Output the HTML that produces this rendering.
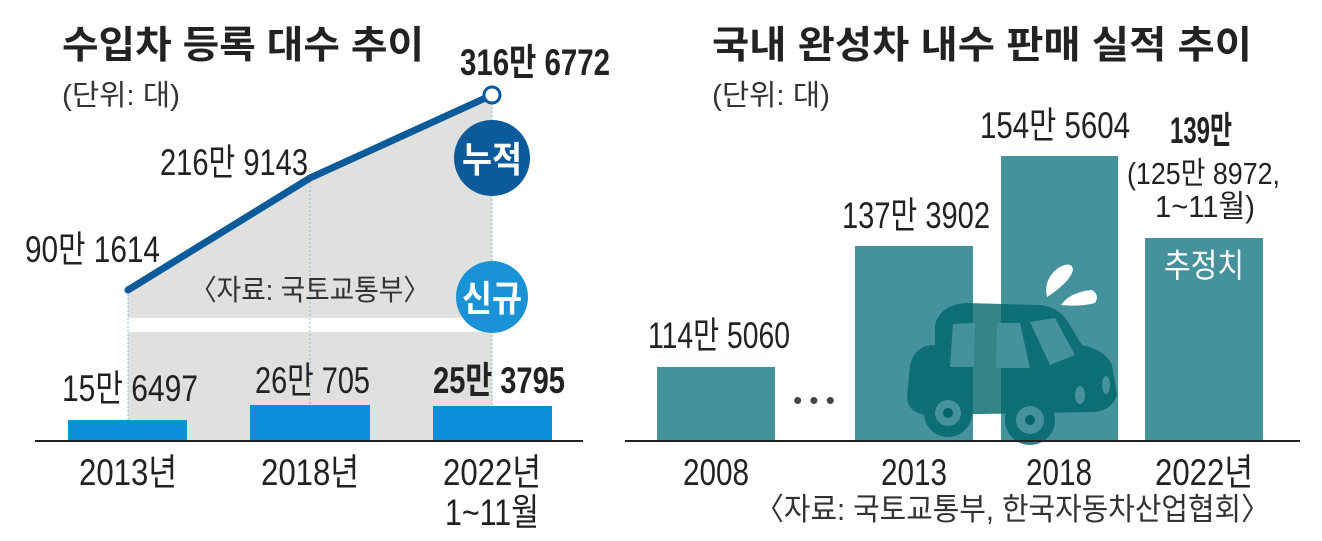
<!DOCTYPE html>
<html><head><meta charset="utf-8"><style>
html,body{margin:0;padding:0;background:#fff;}
svg{display:block;font-family:"Liberation Sans","Noto Sans CJK KR",sans-serif;}
</style></head><body>
<svg width="1322" height="541" viewBox="0 0 1322 541" xmlns="http://www.w3.org/2000/svg">
<!-- LEFT -->
<text x="62" y="58" font-size="38" font-weight="bold" fill="#222" textLength="362" lengthAdjust="spacingAndGlyphs">수입차 등록 대수 추이</text>
<text x="62" y="105" font-size="29" fill="#333" textLength="118" lengthAdjust="spacingAndGlyphs">(단위: 대)</text>
<polygon points="128,290 310,178 492,95 492,318 128,318" fill="#e0e0df"/>
<rect x="128" y="332" width="364" height="109" fill="#e0e0df"/>
<g stroke="#7fbde6" stroke-width="1" stroke-dasharray="2,2">
<line x1="128" y1="290" x2="128" y2="441"/><line x1="310" y1="178" x2="310" y2="441"/><line x1="492" y1="95" x2="492" y2="441"/>
</g>
<polyline points="128,290 310,178 492,95" fill="none" stroke="#0b5a9a" stroke-width="7" stroke-linecap="round"/>
<circle cx="492" cy="95" r="8" fill="#fff" stroke="#0b5a9a" stroke-width="3"/>
<circle cx="492" cy="158" r="38" fill="#0a5a9c"/>
<text x="492" y="172" font-size="36" font-weight="bold" fill="#fff" text-anchor="middle" textLength="60" lengthAdjust="spacingAndGlyphs">누적</text>
<circle cx="492" cy="297" r="36" fill="#1a93d6"/>
<text x="492" y="311" font-size="36" font-weight="bold" fill="#fff" text-anchor="middle" textLength="60" lengthAdjust="spacingAndGlyphs">신규</text>
<rect x="68" y="420" width="119" height="21" fill="#0a8fd8"/>
<rect x="250" y="405" width="120" height="36" fill="#0a8fd8"/>
<rect x="433" y="406" width="119" height="35" fill="#0a8fd8"/>
<line x1="35" y1="441" x2="583" y2="441" stroke="#222" stroke-width="2"/>
<text x="460" y="75" font-size="37" font-weight="bold" fill="#222" textLength="150" lengthAdjust="spacingAndGlyphs">316만 6772</text>
<text x="160" y="175" font-size="37" fill="#222" textLength="148" lengthAdjust="spacingAndGlyphs">216만 9143</text>
<text x="25" y="262" font-size="37" fill="#222" textLength="135" lengthAdjust="spacingAndGlyphs">90만 1614</text>
<text x="190" y="300" font-size="29" fill="#333" textLength="240" lengthAdjust="spacingAndGlyphs">〈자료: 국토교통부〉</text>
<text x="62" y="401" font-size="37" fill="#222" textLength="136" lengthAdjust="spacingAndGlyphs">15만 6497</text>
<text x="255" y="393" font-size="37" fill="#222" textLength="115" lengthAdjust="spacingAndGlyphs">26만 705</text>
<text x="433" y="393" font-size="37" font-weight="bold" fill="#222" textLength="132" lengthAdjust="spacingAndGlyphs">25만 3795</text>
<g font-size="37" fill="#222" text-anchor="middle" lengthAdjust="spacingAndGlyphs">
<text x="128" y="485" textLength="98" lengthAdjust="spacingAndGlyphs">2013년</text><text x="310" y="485" textLength="98" lengthAdjust="spacingAndGlyphs">2018년</text><text x="492" y="485" textLength="98" lengthAdjust="spacingAndGlyphs">2022년</text><text x="492" y="525" textLength="94" lengthAdjust="spacingAndGlyphs">1~11월</text>
</g>
<!-- RIGHT -->
<text x="712" y="58" font-size="38" font-weight="bold" fill="#222" textLength="540" lengthAdjust="spacingAndGlyphs">국내 완성차 내수 판매 실적 추이</text>
<text x="712" y="105" font-size="29" fill="#333" textLength="118" lengthAdjust="spacingAndGlyphs">(단위: 대)</text>
<g fill="#46929c">
<rect x="657" y="367" width="118" height="74"/><rect x="855" y="246" width="118" height="195"/>
<rect x="1001" y="156" width="117" height="285"/><rect x="1145" y="238" width="118" height="203"/>
</g>
<!-- car -->
<g fill="#00666a" opacity="0.8">
<path d="M935,325 Q940,305 965,303 L1040,305 Q1060,307 1070,325 L1082,345 Q1105,350 1112,365 L1117,395 Q1112,410 1095,412 L925,415 Q908,412 907,398 L910,365 Q915,345 935,345 Z"/>
<circle cx="948" cy="413" r="24"/><circle cx="1030" cy="420" r="25"/>
</g>
<g fill="#46929c">
<path d="M953,324 L975,323 L974,367 L950,367 Z"/><path d="M997,323 L1020,323 L1030,368 L996,368 Z"/><path d="M1030,322 L1055,318 L1075,355 L1050,365 Z"/>
<circle cx="948" cy="413" r="13"/><circle cx="1030" cy="420" r="14"/><ellipse cx="1080" cy="395" rx="5" ry="9"/><ellipse cx="1106" cy="385" rx="4" ry="9"/>
</g>
<circle cx="948" cy="413" r="5" fill="#00666a"/><circle cx="1030" cy="420" r="5" fill="#00666a"/>
<g fill="#fff">
<path d="M1047,297 Q1043,280 1058,268 Q1072,260 1073,270 Q1070,282 1047,297 Z"/>
<path d="M1061,305 Q1070,292 1092,290 Q1100,295 1095,303 Q1080,307 1061,305 Z"/>
</g>
<line x1="625" y1="441" x2="1300" y2="441" stroke="#222" stroke-width="2"/>
<text x="648" y="348" font-size="37" fill="#222" textLength="142" lengthAdjust="spacingAndGlyphs">114만 5060</text>
<text x="814" y="409" font-size="26" fill="#444" text-anchor="middle">• • •</text>
<text x="842" y="228" font-size="37" fill="#222" textLength="148" lengthAdjust="spacingAndGlyphs">137만 3902</text>
<text x="980" y="138" font-size="37" fill="#222" textLength="150" lengthAdjust="spacingAndGlyphs">154만 5604</text>
<text x="1170" y="143" font-size="37" font-weight="bold" fill="#222" textLength="62" lengthAdjust="spacingAndGlyphs">139만</text>
<text x="1127" y="184" font-size="31" fill="#222" textLength="153" lengthAdjust="spacingAndGlyphs">(125만 8972,</text>
<text x="1155" y="217" font-size="31" fill="#222" textLength="100" lengthAdjust="spacingAndGlyphs">1~11월)</text>
<text x="1204" y="277" font-size="33" fill="#fff" text-anchor="middle" textLength="80" lengthAdjust="spacingAndGlyphs">추정치</text>
<g font-size="37" fill="#222" text-anchor="middle">
<text x="716" y="485" textLength="66" lengthAdjust="spacingAndGlyphs">2008</text><text x="914" y="485" textLength="66" lengthAdjust="spacingAndGlyphs">2013</text><text x="1059" y="485" textLength="66" lengthAdjust="spacingAndGlyphs">2018</text><text x="1204" y="485" textLength="98" lengthAdjust="spacingAndGlyphs">2022년</text>
</g>
<text x="755" y="520" font-size="31" fill="#333" textLength="515" lengthAdjust="spacingAndGlyphs">〈자료: 국토교통부, 한국자동차산업협회〉</text>
</svg>
</body></html>
